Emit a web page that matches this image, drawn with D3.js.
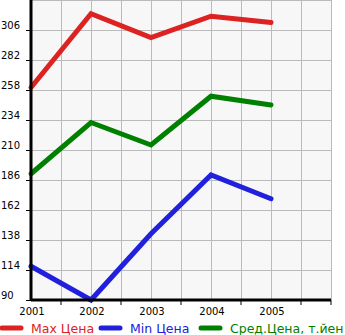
<!DOCTYPE html>
<html>
<head>
<meta charset="utf-8">
<script src="https://cdn.jsdelivr.net/npm/d3@7"></script>
<style>
  body { margin: 0; background: #fff; }
  svg { display: block; font-family: "DejaVu Sans", sans-serif; }
</style>
</head>
<body>
<div id="chart"></div>
<script>
// Data
const years = [2001, 2002, 2003, 2004, 2005];
const maxPrice = [260, 319, 300, 317, 312];
const minPrice = [117, 90, 143, 190, 171];
const avgPrice = [191, 232, 214, 253, 246];
const yTicks = [90, 114, 138, 162, 186, 210, 234, 258, 282, 306];
const seriesNames = ["Max Цена", "Min Цена", "Сред.Цена, т.йен"];
const seriesColors = ["#dd2222", "#2020dd", "#008000"];

const width = 345, height = 335;

const svg = d3.select("#chart")
  .append("svg")
  .attr("width", width)
  .attr("height", height);

// Scales
const x = d3.scaleLinear().domain([2001, 2006]).range([31, 331]);
const y = d3.scaleLinear().domain([90, 330]).range([300, 0]);

// Plot background
svg.append("rect")
  .attr("x", x(2001)).attr("y", y(330))
  .attr("width", x(2006) - x(2001))
  .attr("height", y(90) - y(330))
  .attr("fill", "#f7f7f7");

// Grid
const xGrid = d3.range(2001, 2006.01, 0.5);
const yGrid = d3.range(90, 331, 24);

svg.append("g")
  .selectAll("line")
  .data(xGrid)
  .join("line")
  .attr("x1", d => x(d)).attr("x2", d => x(d))
  .attr("y1", y(330)).attr("y2", y(90))
  .attr("stroke", "#bbbbbb")
  .attr("stroke-width", 1)
  .attr("shape-rendering", "crispEdges");

svg.append("g")
  .selectAll("line")
  .data(yGrid)
  .join("line")
  .attr("x1", x(2001)).attr("x2", x(2006))
  .attr("y1", d => y(d) + 0.5).attr("y2", d => y(d) + 0.5)
  .attr("stroke", "#bbbbbb")
  .attr("stroke-width", 1)
  .attr("shape-rendering", "crispEdges");

// Lines
const series = [maxPrice, minPrice, avgPrice];
const line = d3.line()
  .x((d, i) => x(years[i]))
  .y(d => y(d));

svg.append("g")
  .selectAll("path")
  .data(series)
  .join("path")
  .attr("d", d => line(d))
  .attr("fill", "none")
  .attr("stroke", (d, i) => seriesColors[i])
  .attr("stroke-width", 5)
  .attr("stroke-linejoin", "miter")
  .attr("stroke-linecap", "round");

// Axes
svg.append("line")
  .attr("x1", x(2001)).attr("x2", x(2001))
  .attr("y1", y(330)).attr("y2", y(90) + 1)
  .attr("stroke", "#000").attr("stroke-width", 3);

svg.append("line")
  .attr("x1", x(2001)).attr("x2", x(2006))
  .attr("y1", y(90)).attr("y2", y(90))
  .attr("stroke", "#000").attr("stroke-width", 3);

// x ticks between labels
svg.append("g")
  .selectAll("line")
  .data(d3.range(2001.5, 2006.01, 1).concat([2006]))
  .join("line")
  .attr("x1", d => x(d)).attr("x2", d => x(d))
  .attr("y1", y(90)).attr("y2", y(90) + 5)
  .attr("stroke", "#000").attr("stroke-width", 1);

// y tick marks
svg.append("g")
  .selectAll("line")
  .data(yTicks)
  .join("line")
  .attr("x1", 26).attr("x2", x(2001))
  .attr("y1", d => y(d) + 0.5).attr("y2", d => y(d) + 0.5)
  .attr("stroke", "#000").attr("stroke-width", 1);

// y labels
svg.append("g")
  .selectAll("text")
  .data(yTicks)
  .join("text")
  .attr("x", 1)
  .attr("y", d => y(d) - 1)
  .attr("font-size", "10px")
  .attr("fill", "#000")
  .text(d => d);

// x labels
svg.append("g")
  .selectAll("text")
  .data(years)
  .join("text")
  .attr("x", d => x(d) + 1)
  .attr("y", 315)
  .attr("text-anchor", "middle")
  .attr("font-size", "10px")
  .attr("fill", "#000")
  .text(d => d);

// Legend
const legendX = [0, 99, 199];
const legend = svg.append("g")
  .selectAll("g")
  .data(seriesNames)
  .join("g")
  .attr("transform", (d, i) => `translate(${legendX[i]},328)`);

legend.append("line")
  .attr("x1", 2).attr("x2", 21)
  .attr("y1", 0).attr("y2", 0)
  .attr("stroke", (d, i) => seriesColors[i])
  .attr("stroke-width", 5)
  .attr("stroke-linecap", "round");

legend.append("text")
  .attr("x", 31)
  .attr("y", 4.5)
  .attr("font-size", "12.5px")
  .attr("fill", (d, i) => seriesColors[i])
  .text(d => d);
</script>
</body>
</html>
